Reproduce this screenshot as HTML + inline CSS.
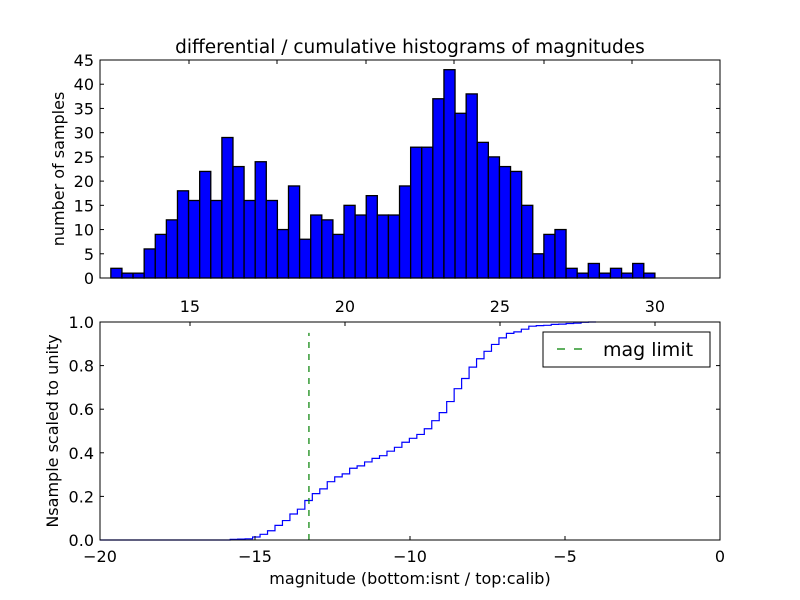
<!DOCTYPE html>
<html><head><meta charset="utf-8"><style>body{margin:0;background:#fff}svg{display:block}text{font-family:"DejaVu Sans","Liberation Sans",sans-serif}</style></head>
<body>
<svg id="c" width="800" height="600" xmlns="http://www.w3.org/2000/svg">
<rect width="800" height="600" fill="#fff"/>
<g id="top"></g>
<g id="bot"></g>
</svg>
<script>
const counts=[2,1,1,6,9,12,18,16,22,16,29,23,16,24,16,10,19,8,13,12,9,15,13,17,13,13,19,27,27,37,43,34,38,28,25,23,22,15,5,9,10,2,1,3,1,2,1,3,1];
const topBinStart=12.45, topBinEnd=30.0;
const botBinStart=-15.8, botBinEnd=-4.0;
const magLimit=-13.26;
const topXTicks=[15,20,25,30];
const topYTicks=[0,5,10,15,20,25,30,35,40,45];
const botXTicks=[-20,-15,-10,-5,0];
const botYTicks=[0,0.2,0.4,0.6,0.8,1.0];
const NS="http://www.w3.org/2000/svg";
function mk(p,t,a,txt){const e=document.createElementNS(NS,t);for(const k in a)e.setAttribute(k,a[k]);if(txt!==undefined)e.textContent=txt;p.appendChild(e);return e;}
const L=100,R=720;
const tx=v=>L+(v-12.1)*(R-L)/20, ty=v=>278+(0-v)*(218/45);
const bx=v=>L+(v+20)*(R-L)/20, by=v=>540-v*218;
const T=document.getElementById('top'), B=document.getElementById('bot');
let e=mk(T,'text',{x:410,y:53,'text-anchor':'middle','font-size':18.5},'differential / cumulative histograms of magnitudes');

const w=(topBinEnd-topBinStart)/counts.length;
counts.forEach((c,i)=>{const x0=tx(topBinStart+i*w),x1=tx(topBinStart+(i+1)*w);
 const r=mk(T,'rect',{x:x0,y:ty(c),width:x1-x0,height:ty(0)-ty(c),fill:'#0000ff',stroke:'#000','stroke-width':1.3});
 });
e=mk(T,'rect',{x:L,y:60,width:R-L,height:218,fill:'none',stroke:'#000','stroke-width':1});

topYTicks.forEach(v=>{mk(T,'line',{x1:L,x2:L+4,y1:ty(v),y2:ty(v),stroke:'#000'});mk(T,'line',{x1:R,x2:R-4,y1:ty(v),y2:ty(v),stroke:'#000'});
 const t=mk(T,'text',{x:L-6,y:ty(v)+6,'text-anchor':'end','font-size':16},String(v));});
[189,277,366,454,544,632].forEach(p=>mk(T,'line',{x1:p,x2:p,y1:60,y2:64,stroke:'#000'}));
topXTicks.forEach(v=>{const t=mk(T,'text',{x:tx(v),y:312,'text-anchor':'middle','font-size':16},String(v));});
e=mk(T,'text',{x:64,y:169,'text-anchor':'middle','font-size':16,transform:'rotate(-90 64 169)'},'number of samples');

const total=counts.reduce((a,b)=>a+b,0);
const bw=(botBinEnd-botBinStart)/counts.length;
let cum=0,d=`M${bx(-20)},${by(0)} L${bx(botBinStart)},${by(0)}`;
counts.forEach((c,i)=>{cum+=c;const f=cum/total;d+=` L${bx(botBinStart+i*bw)},${by(f)} L${bx(botBinStart+(i+1)*bw)},${by(f)}`;});
e=mk(B,'path',{d:d,fill:'none',stroke:'#0000ff','stroke-width':1.2});

e=mk(B,'line',{x1:bx(magLimit),x2:bx(magLimit),y1:by(0),y2:by(0.95),stroke:'#008000','stroke-width':1.2,'stroke-dasharray':'6,6'});

e=mk(B,'rect',{x:L,y:322,width:R-L,height:218,fill:'none',stroke:'#000','stroke-width':1});

botYTicks.forEach(v=>{mk(B,'line',{x1:L,x2:L+4,y1:by(v),y2:by(v),stroke:'#000'});mk(B,'line',{x1:R,x2:R-4,y1:by(v),y2:by(v),stroke:'#000'});
 const t=mk(B,'text',{x:L-6,y:by(v)+6,'text-anchor':'end','font-size':16},v.toFixed(1));});
botXTicks.forEach(v=>{mk(B,'line',{x1:bx(v),x2:bx(v),y1:540,y2:536,stroke:'#000'});
 const t=mk(B,'text',{x:bx(v),y:562,'text-anchor':'middle','font-size':16},(v<0?'\u2212':'')+Math.abs(v));});
[190,345,500,655].forEach(p=>mk(B,'line',{x1:p,x2:p,y1:322,y2:326,stroke:'#000'}));
e=mk(B,'text',{x:410,y:584,'text-anchor':'middle','font-size':16},'magnitude (bottom:isnt / top:calib)');

e=mk(B,'text',{x:58,y:431,'text-anchor':'middle','font-size':16,transform:'rotate(-90 58 431)'},'Nsample scaled to unity');

const lg=mk(B,'g',{});
mk(lg,'rect',{x:543,y:332,width:167,height:35,fill:'#fff',stroke:'#000'});
mk(lg,'line',{x1:557,x2:584,y1:349,y2:349,stroke:'#008000','stroke-width':1.2,'stroke-dasharray':'8,9'});
e=mk(lg,'text',{x:603,y:356,'font-size':19},'mag limit');
</script>
</body></html>
